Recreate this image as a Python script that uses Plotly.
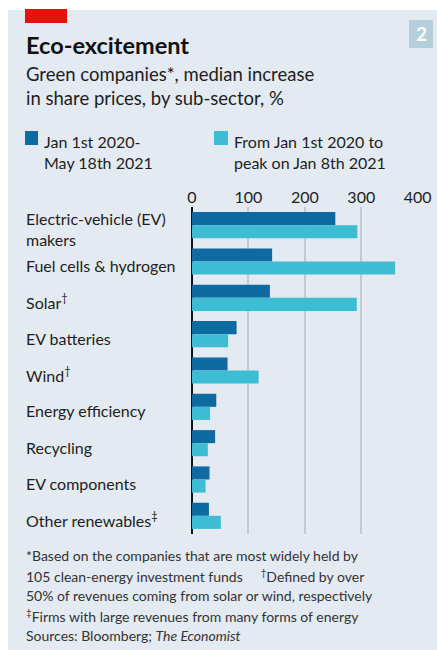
import plotly.graph_objects as go

# Sub-sectors, top to bottom
categories = [
    "Electric-vehicle (EV)<br>makers",
    "Fuel cells & hydrogen",
    "Solar<sup>†</sup>",
    "EV batteries",
    "Wind<sup>†</sup>",
    "Energy efficiency",
    "Recycling",
    "EV components",
    "Other renewables<sup>‡</sup>",
]
# Median share-price increase, %
to_may_2021 = [254, 142, 138, 79, 63, 43, 41, 31, 30]
to_peak_jan_2021 = [293, 360, 292, 64, 118, 32, 28, 24, 51]

series_names = ["Jan 1st 2020-<br>May 18th 2021", "From Jan 1st 2020 to<br>peak on Jan 8th 2021"]
tick_values = [0, 100, 200, 300, 400]

W, H = 437, 650
BG = "#e3eaf1"
DARK = "#0e6aa0"
LIGHT = "#3ebcd4"
TEXT = "#1e1e1e"
FONT = "Lato"


def px(x):
    return x / W


def py(y):
    return 1 - y / H


fig = go.Figure()
for vals, name, col in [(to_may_2021, series_names[0], DARK),
                        (to_peak_jan_2021, series_names[1], LIGHT)]:
    fig.add_trace(go.Bar(
        x=vals, y=categories, orientation="h", name=name,
        marker=dict(color=col, line=dict(width=0)),
    ))

shapes = [
    # panel background
    dict(type="rect", xref="paper", yref="paper", x0=px(8), x1=1, y0=0, y1=py(10),
         fillcolor=BG, line=dict(width=0), layer="below"),
    # red tag
    dict(type="rect", xref="paper", yref="paper", x0=px(25), x1=px(67), y0=py(23), y1=py(9),
         fillcolor="#e3120b", line=dict(width=0)),
    # chart number badge
    dict(type="rect", xref="paper", yref="paper", x0=px(409), x1=px(433), y0=py(48), y1=py(20),
         fillcolor="#b4cedc", line=dict(width=0)),
    # legend swatches
    dict(type="rect", xref="paper", yref="paper", x0=px(25), x1=px(38), y0=py(145), y1=py(131),
         fillcolor=DARK, line=dict(width=0)),
    dict(type="rect", xref="paper", yref="paper", x0=px(214), x1=px(228), y0=py(145), y1=py(131),
         fillcolor=LIGHT, line=dict(width=0)),
]

annotations = [
    dict(text="<b>2</b>", x=px(421), y=py(34), xanchor="center", yanchor="middle",
         font=dict(size=19, color="white", family=FONT)),
    dict(text="<b>Eco-excitement</b>", x=px(24), y=py(45), xanchor="left", yanchor="middle",
         font=dict(size=23.5, color="#111111", family=FONT)),
    dict(text="Green companies*, median increase<br>in share prices, by sub-sector, %",
         x=px(24), y=py(86), xanchor="left", yanchor="middle", align="left",
         font=dict(size=18.5, color=TEXT, family=FONT)),
    dict(text=series_names[0], x=px(42), y=py(152), xanchor="left", yanchor="middle", align="left",
         font=dict(size=16, color=TEXT, family=FONT)),
    dict(text=series_names[1], x=px(232), y=py(152), xanchor="left", yanchor="middle", align="left",
         font=dict(size=16, color=TEXT, family=FONT)),
]

# category labels, left aligned
for c in categories:
    annotations.append(dict(text=c, xref="paper", yref="y", x=px(24), y=c, yshift=-4,
                            xanchor="left", yanchor="middle", align="left", showarrow=False,
                            font=dict(size=16, color=TEXT, family=FONT)))

footnotes = [
    "*Based on the companies that are most widely held by",
    "105 clean-energy investment funds     <sup>†</sup>Defined by over",
    "50% of revenues coming from solar or wind, respectively",
    "<sup>‡</sup>Firms with large revenues from many forms of energy",
    "Sources: Bloomberg; <i>The Economist</i>",
]
for i, line in enumerate(footnotes):
    annotations.append(dict(text=line, x=px(24), y=py(555 + 20 * i), xanchor="left", yanchor="middle",
                            font=dict(size=14, color="#333333", family=FONT)))

for a in annotations:
    a.setdefault("xref", "paper")
    a.setdefault("yref", "paper")
    a.setdefault("showarrow", False)

fig.update_layout(
    width=W, height=H,
    margin=dict(l=0, r=0, t=0, b=0, pad=0),
    paper_bgcolor="white",
    plot_bgcolor="rgba(0,0,0,0)",
    barmode="group", bargap=0.28, bargroupgap=0,
    showlegend=False,
    shapes=shapes,
    annotations=annotations,
    font=dict(family=FONT, color=TEXT),
    xaxis=dict(
        domain=[px(192), px(417.7)], range=[0, 400], side="top",
        tickvals=tick_values, ticks="", showline=False, automargin=False,
        showgrid=True, gridcolor="#c3cad1", gridwidth=1.5,
        zeroline=True, zerolinecolor="#111111", zerolinewidth=2,
        tickfont=dict(size=16, color=TEXT, family=FONT), fixedrange=True,
    ),
    yaxis=dict(
        domain=[py(534), py(207)], range=[8.5, -0.5], type="category", automargin=False,
        showticklabels=False, showgrid=False, zeroline=False, ticks="",
    ),
)

fig.write_html("out.html")
